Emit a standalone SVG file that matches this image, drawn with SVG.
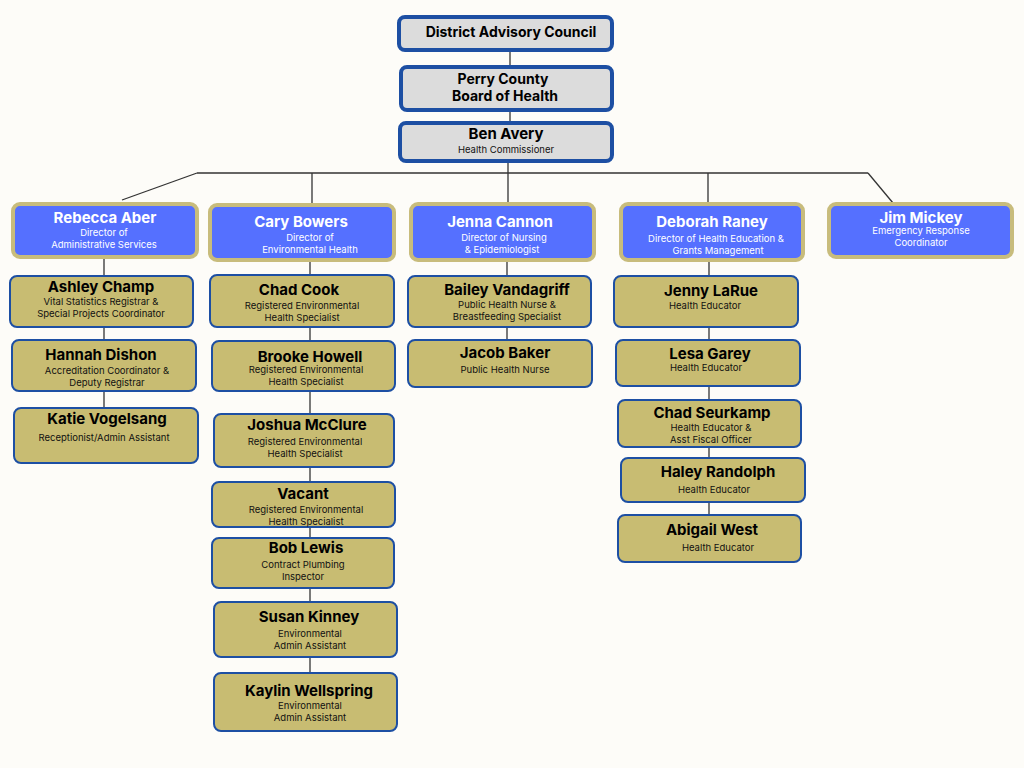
<svg xmlns="http://www.w3.org/2000/svg" width="1024" height="768" viewBox="0 0 1024 768">
<style>
.top{fill:#dcdcdc;stroke:#1d4fa3;stroke-width:4}
.dir{fill:#5570ff;stroke:#c8bc7c;stroke-width:4}
.st{fill:#c8bc72;stroke:#1d4fa3;stroke-width:2}
text{font-family:Inter,"Liberation Sans",sans-serif;text-anchor:middle}
.n{font-size:15px;font-weight:bold;fill:#000}
.s{font-size:9.5px;fill:#111}
.dn{font-size:15px;font-weight:bold;fill:#fff}
.ds{font-size:9.5px;fill:#fff}
.tn{font-size:14px;font-weight:bold;fill:#000}
line{stroke:#333;stroke-width:1.3}
</style>
<rect width="1024" height="768" fill="#fdfcf8"/>
<g id="connectors">
<line x1="510" y1="50" x2="510" y2="67"/><line x1="510" y1="110" x2="510" y2="123"/><line x1="508" y1="161" x2="508" y2="204"/>
<line x1="197" y1="173" x2="868" y2="173"/><line x1="197" y1="173" x2="122" y2="200"/><line x1="868" y1="173" x2="893" y2="203"/>
<line x1="312" y1="173" x2="312" y2="205"/><line x1="708" y1="173" x2="708" y2="204"/>
<line x1="104" y1="257" x2="104" y2="408"/>
<line x1="310" y1="260" x2="310" y2="673"/>
<line x1="507" y1="260" x2="507" y2="340"/>
<line x1="709" y1="260" x2="709" y2="515"/>
</g>
<g id="dac"><rect class="top" x="399" y="17" width="213" height="33" rx="6"/><text class="tn" x="511" y="37">District Advisory Council</text></g>
<g id="board"><rect class="top" x="401" y="67" width="211" height="43" rx="6"/><text class="tn" x="503" y="84">Perry County</text><text class="tn" x="505" y="101">Board of Health</text></g>
<g id="avery"><rect class="top" x="400" y="123" width="212" height="38" rx="6"/><text class="n" x="506" y="139">Ben Avery</text><text class="s" x="506" y="153">Health Commissioner</text></g>

<g id="aber"><rect class="dir" x="13" y="204" width="184" height="53" rx="7"/><text class="dn" x="105" y="223">Rebecca Aber</text><text class="ds" x="104" y="236">Director of</text><text class="ds" x="104" y="248">Administrative Services</text></g>
<g id="bowers"><rect class="dir" x="210" y="205" width="184" height="55" rx="7"/><text class="dn" x="301" y="227">Cary Bowers</text><text class="ds" x="310" y="241">Director of</text><text class="ds" x="310" y="253">Environmental Health</text></g>
<g id="cannon"><rect class="dir" x="411" y="204" width="183" height="56" rx="7"/><text class="dn" x="500" y="227">Jenna Cannon</text><text class="ds" x="504" y="241">Director of Nursing</text><text class="ds" x="502" y="253">&amp;  Epidemiologist</text></g>
<g id="raney"><rect class="dir" x="621" y="204" width="182" height="56" rx="7"/><text class="dn" x="712" y="227">Deborah Raney</text><text class="ds" x="716" y="242">Director of Health Education &amp;</text><text class="ds" x="718" y="254">Grants Management</text></g>
<g id="mickey"><rect class="dir" x="829" y="204" width="183" height="53" rx="7"/><text class="dn" x="921" y="223">Jim Mickey</text><text class="ds" x="921" y="234">Emergency Response</text><text class="ds" x="921" y="246">Coordinator</text></g>

<g id="champ"><rect class="st" x="10" y="276" width="183" height="51" rx="7"/><text class="n" x="101" y="292">Ashley Champ</text><text class="s" x="101" y="305">Vital Statistics Registrar &amp;</text><text class="s" x="101" y="317">Special Projects Coordinator</text></g>
<g id="dishon"><rect class="st" x="12" y="340" width="184" height="51" rx="7"/><text class="n" x="101" y="360">Hannah Dishon</text><text class="s" x="107" y="374">Accreditation Coordinator &amp;</text><text class="s" x="107" y="386">Deputy Registrar</text></g>
<g id="vogelsang"><rect class="st" x="14" y="408" width="184" height="55" rx="7"/><text class="n" x="107" y="424">Katie Vogelsang</text><text class="s" x="104" y="441">Receptionist/Admin Assistant</text></g>

<g id="cook"><rect class="st" x="210" y="275" width="184" height="52" rx="7"/><text class="n" x="299" y="295">Chad Cook</text><text class="s" x="302" y="309">Registered Environmental</text><text class="s" x="302" y="321">Health Specialist</text></g>
<g id="howell"><rect class="st" x="212" y="341" width="183" height="50" rx="7"/><text class="n" x="310" y="362">Brooke Howell</text><text class="s" x="306" y="373">Registered Environmental</text><text class="s" x="306" y="385">Health Specialist</text></g>
<g id="mcclure"><rect class="st" x="214" y="414" width="180" height="53" rx="7"/><text class="n" x="307" y="430">Joshua McClure</text><text class="s" x="305" y="445">Registered Environmental</text><text class="s" x="305" y="457">Health Specialist</text></g>
<g id="vacant"><rect class="st" x="212" y="482" width="183" height="45" rx="7"/><text class="n" x="303" y="499">Vacant</text><text class="s" x="306" y="513">Registered Environmental</text><text class="s" x="306" y="525">Health Specialist</text></g>
<g id="lewis"><rect class="st" x="212" y="538" width="182" height="50" rx="7"/><text class="n" x="306" y="553">Bob Lewis</text><text class="s" x="303" y="568">Contract Plumbing</text><text class="s" x="303" y="580">Inspector</text></g>
<g id="kinney"><rect class="st" x="214" y="602" width="183" height="55" rx="7"/><text class="n" x="309" y="622">Susan Kinney</text><text class="s" x="310" y="637">Environmental</text><text class="s" x="310" y="649">Admin Assistant</text></g>
<g id="wellspring"><rect class="st" x="214" y="673" width="183" height="58" rx="7"/><text class="n" x="309" y="696">Kaylin Wellspring</text><text class="s" x="310" y="709">Environmental</text><text class="s" x="310" y="721">Admin Assistant</text></g>

<g id="vandagriff"><rect class="st" x="408" y="276" width="183" height="51" rx="7"/><text class="n" x="507" y="295">Bailey Vandagriff</text><text class="s" x="507" y="308">Public Health Nurse &amp;</text><text class="s" x="507" y="320">Breastfeeding Specialist</text></g>
<g id="baker"><rect class="st" x="408" y="340" width="184" height="47" rx="7"/><text class="n" x="505" y="358">Jacob Baker</text><text class="s" x="505" y="373">Public Health Nurse</text></g>

<g id="larue"><rect class="st" x="614" y="276" width="184" height="51" rx="7"/><text class="n" x="711" y="296">Jenny LaRue</text><text class="s" x="705" y="309">Health Educator</text></g>
<g id="garey"><rect class="st" x="616" y="340" width="184" height="46" rx="7"/><text class="n" x="710" y="359">Lesa Garey</text><text class="s" x="706" y="371">Health Educator</text></g>
<g id="seurkamp"><rect class="st" x="618" y="400" width="183" height="47" rx="7"/><text class="n" x="712" y="418">Chad Seurkamp</text><text class="s" x="711" y="431">Health Educator &amp;</text><text class="s" x="711" y="443">Asst Fiscal Officer</text></g>
<g id="randolph"><rect class="st" x="621" y="458" width="184" height="44" rx="7"/><text class="n" x="718" y="477">Haley Randolph</text><text class="s" x="714" y="493">Health Educator</text></g>
<g id="west"><rect class="st" x="618" y="515" width="183" height="47" rx="7"/><text class="n" x="712" y="535">Abigail West</text><text class="s" x="718" y="551">Health Educator</text></g>
</svg>
